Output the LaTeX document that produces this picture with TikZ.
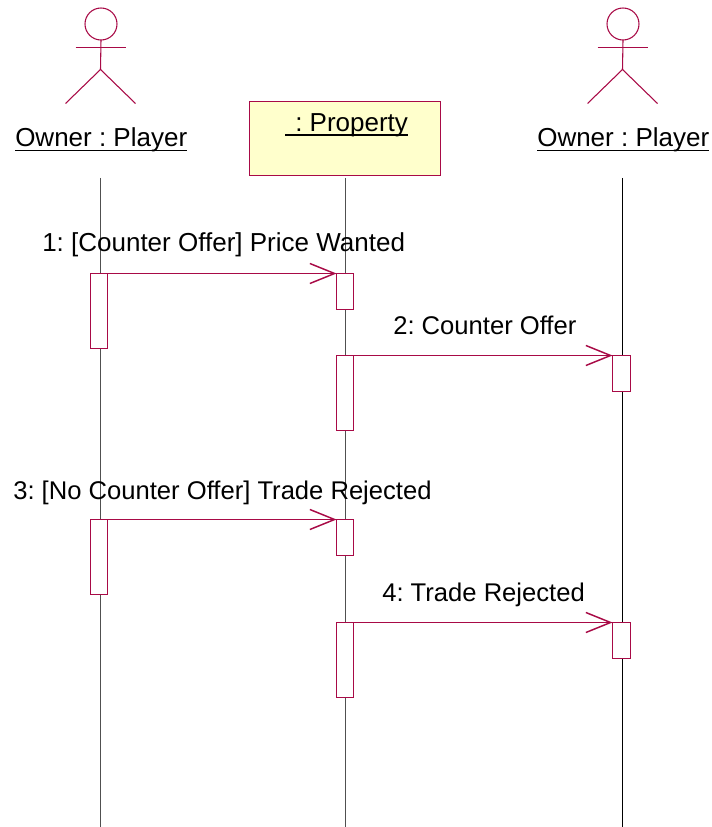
\documentclass[tikz,border=0pt]{standalone}
\usepackage{fontspec}
\setmainfont{Liberation Sans}
\usetikzlibrary{arrows.meta}
\definecolor{uml}{HTML}{A80A46}
\definecolor{boxfill}{HTML}{FFFFCC}
\definecolor{life}{HTML}{505050}
\newsavebox{\ulinebox}
\newcommand{\uline}[1]{\sbox{\ulinebox}{#1}\rlap{\rule[-3.2pt]{\wd\ulinebox}{1.2pt}}\usebox{\ulinebox}}
\tikzset{
  umlline/.style={draw=uml,line width=.8pt},
  lifeline/.style={draw=life,line width=.8pt},
  activation/.style={umlline,fill=white,minimum width=12.75pt,inner sep=0pt,outer sep=0pt,anchor=north},
  message/.style={umlline,-{Straight Barb[length=18.5pt,width=15pt,line width=1.1pt]}},
  objbox/.style={umlline,fill=boxfill,minimum width=143.25pt,minimum height=55.5pt,inner sep=0pt,outer sep=0pt,anchor=north west},
  lbl/.style={font=\fontsize{19.5pt}{22pt}\selectfont\frenchspacing,text=black,inner sep=0pt,anchor=base west},
  lblsmall/.style={lbl,font=\fontsize{19.2pt}{22pt}\selectfont\frenchspacing},
}
\begin{document}
\begin{tikzpicture}[x=.75pt,y=-.75pt]
\useasboundingbox (0,0) rectangle (712,827);
% lifelines
\coordinate (t1) at (100.5,178); \coordinate (b1) at (100.5,827);
\coordinate (t2) at (345.5,178); \coordinate (b2) at (345.5,827);
\coordinate (t3) at (622.5,178); \coordinate (b3) at (622.5,827);
\draw[lifeline] (t1) -- (b1);
\draw[lifeline] (t2) -- (b2);
\draw[lifeline,draw=black] (t3) -- (b3);
% actors
\foreach \n/\x in {p/100.5,q/622.5}{
  \node[circle,umlline,minimum size=24pt,inner sep=0pt,outer sep=0pt] (head\n) at (\x+.5,24) {};
  \coordinate (hip\n) at (\x,69.5);
  \coordinate (la\n) at (\x-25,47.5); \coordinate (ra\n) at (\x+25.5,47.5);
  \coordinate (ll\n) at (\x-35,103.5); \coordinate (rl\n) at (\x+35,103.5);
  \draw[umlline] (head\n.south) -- (hip\n);
  \draw[umlline] (la\n) -- (ra\n);
  \draw[umlline] (ll\n) -- (hip\n) -- (rl\n);
}
\node[lbl] (own1) at (15,147) {\uline{Owner : Player}};
\node[lbl] (own2) at (537,147) {\uline{Owner : Player}};
% object
\node[objbox] (prop) at (249.5,101.5) {};
\node[lbl] (proplabel) at (285,131.5) {\uline{\hspace{7.5pt}: Property}};
% activations
\node[activation,minimum height=56.25pt] (a1) at (99,273.5) {};
\node[activation,minimum height=27pt] (a2) at (345,273.5) {};
\node[activation,minimum height=56.25pt] (a3) at (345,355.5) {};
\node[activation,minimum height=27pt,minimum width=13.5pt] (a4) at (621.5,355.5) {};
\node[activation,minimum height=56.25pt] (a5) at (99,519.5) {};
\node[activation,minimum height=27pt] (a6) at (345,519.5) {};
\node[activation,minimum height=56.25pt] (a7) at (345,622.5) {};
\node[activation,minimum height=27pt,minimum width=13.5pt] (a8) at (621.5,622.5) {};
% messages
\draw[message] (a1.north east) -- (a2.north west);
\draw[message] (a3.north east) -- (a4.north west);
\draw[message] (a5.north east) -- (a6.north west);
\draw[message] (a7.north east) -- (a8.north west);
% labels
\node[lbl] (m1) at (42,252) {1: [Counter Offer] Price Wanted};
\node[lblsmall] (m2) at (393,334) {2: Counter Offer};
\node[lblsmall] (m3) at (13,499) {3: [No Counter Offer] Trade Rejected};
\node[lblsmall] (m4) at (382,601) {4: Trade Rejected};
\end{tikzpicture}
\end{document}
